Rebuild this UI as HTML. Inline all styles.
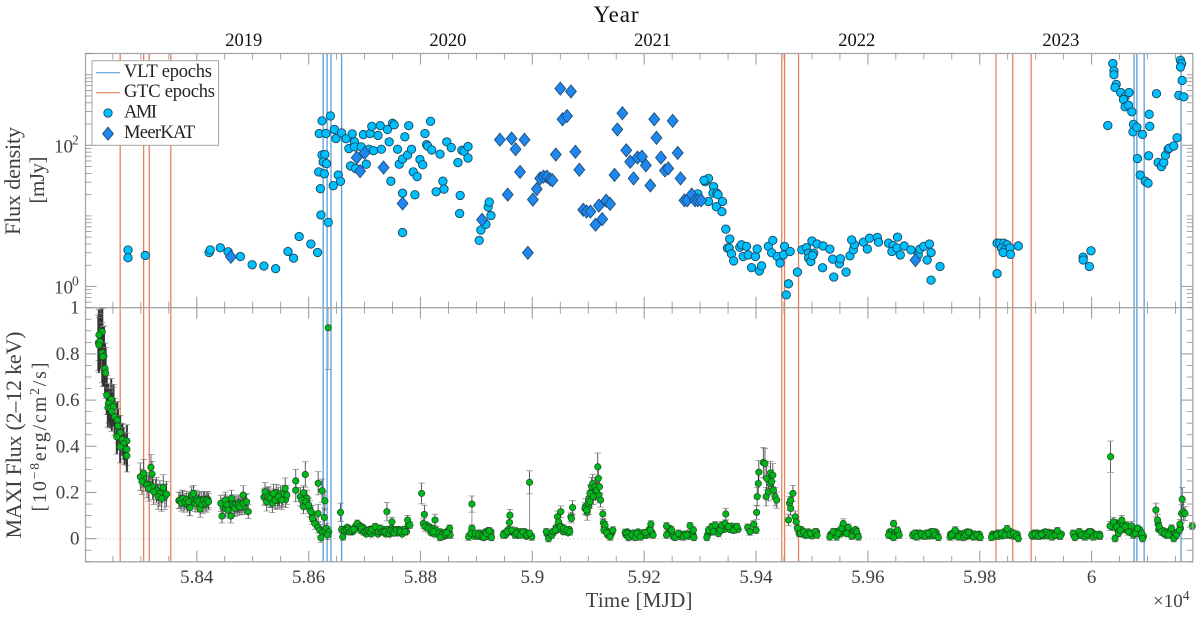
<!DOCTYPE html>
<html lang="en">
<head>
<meta charset="utf-8">
<title>Flux density and MAXI flux light curves</title>
<style>
html,body{margin:0;padding:0;background:#fff;}
svg{display:block;font-family:"Liberation Serif",serif;}
</style>
</head>
<body>
<svg id="chart" xmlns="http://www.w3.org/2000/svg" width="1200" height="617" viewBox="0 0 1200 617">
  <rect x="0" y="0" width="1200" height="617" fill="#fff"/>
  <g id="epochs"></g>
  <g id="zero"></g>
  <g id="errors"></g>
  <g id="maxi"></g>
  <g id="ami"></g>
  <g id="meerkat"></g>
  <g id="axes"></g>
  <g id="labels" fill="#404040" font-size="19"></g>
  <g id="years" fill="#111" font-size="18.5"></g>

  <text x="616" y="22" font-size="23" text-anchor="middle" fill="#111" textLength="45">Year</text>
  <text x="639" y="607" font-size="21" text-anchor="middle" fill="#404040" textLength="107">Time [MJD]</text>
  <text transform="translate(20,181) rotate(-90)" font-size="22" text-anchor="middle" fill="#404040" textLength="108">Flux density</text>
  <text transform="translate(44,180) rotate(-90)" font-size="21" text-anchor="middle" fill="#404040" textLength="47">[mJy]</text>
  <text transform="translate(21,435) rotate(-90)" font-size="22" text-anchor="middle" fill="#404040" textLength="207">MAXI Flux (2–12 keV)</text>
  <text transform="translate(46,437) rotate(-90)" font-size="20" text-anchor="middle" fill="#404040" textLength="149">[10<tspan font-size="13.5" dy="-7">−8</tspan><tspan dy="7">erg/cm</tspan><tspan font-size="13.5" dy="-7">2</tspan><tspan dy="7">/s]</tspan></text>
  <text x="1153" y="607" font-size="19" fill="#404040">×10<tspan font-size="13.5" dy="-7">4</tspan></text>

  <g>
    <rect x="92" y="60.7" width="126.5" height="84.6" fill="#fff" stroke="#a6a6a6" stroke-width="1"/>
    <line x1="96" x2="120" y1="72.7" y2="72.7" stroke="#5a9fd4" stroke-width="1.2"/>
    <line x1="96" x2="120" y1="92.7" y2="92.7" stroke="#e8805a" stroke-width="1.2"/>
    <circle cx="108" cy="113" r="4.2" fill="#00bfff" stroke="#17475e" stroke-width="0.9"/>
    <path d="M108 127.2 L113.4 133.7 L108 140.2 L102.6 133.7 Z" fill="#1e88f0" stroke="#1d4d73" stroke-width="0.9"/>
    <text x="124" y="77" font-size="18.5" fill="#222" textLength="88">VLT epochs</text>
    <text x="124" y="97" font-size="18.5" fill="#222" textLength="91">GTC epochs</text>
    <text x="124" y="117.5" font-size="18.5" fill="#222" textLength="33">AMI</text>
    <text x="124" y="138" font-size="18.5" fill="#222" textLength="71">MeerKAT</text>
  </g>
</svg>
<script>
// ---- Epochs (MJD) ----
const vltEpochs = [58626,58633,58640,58659,60076,60081,60094,60160];
const gtcEpochs = [58263,58305,58315,58353.5,59446,59451,59476,59829,59859,59892];

// ---- Axis tick values and labels ----
const xTickValues = [58400,58600,58800,59000,59200,59400,59600,59800,60000];
const xTickLabels = ['5.84','5.86','5.88','5.9','5.92','5.94','5.96','5.98','6'];
const maxiTickValues = [0,0.2,0.4,0.6,0.8,1];
const maxiTickLabels = ['0','0.2','0.4','0.6','0.8','1'];
const fluxTickValues = [1,100];
const fluxTickExponents = ['0','2'];
const yearValues = [58484,58849,59215,59580,59945];
const yearLabels = ['2019','2020','2021','2022','2023'];

// ---- AMI radio flux density ----
const amiMjd = [
58277,58277,58308,58422,58424,58442,58456,58478,58499,58520,58541,58563,58573,58583,58604,58616,
58624,58639,58619,58631,58646,58649,58659,58667,58678,58624,58629,58626,58632,58618,58628,58621,58622,58635,58644,58653,58657,
58698,58710,58713,58728,58724,58741,58750,58753,58744,58759,58779,58772,58818,58808,58811,58813,58820,58835,58847,58855,58874,58878,58885,58885,58867,
58672,58682,58682,58694,58708,58716,58730,58675,58684,58703,58747,58762,58768,58777,58784,58799,58804,58787,58794,58768,58790,58768,58840,58842,58828,58871,58870,
58905,58908,58917,58926,58921,58923,
59309,59312,59315,59307,59296,59324,59323,59330,59332,59315,59340,59329,59339,59346,59353,59349,59352,59356,59360,59371,59374,59383,59377,59386,59399,59402,59392,59406,59410,59422,59430,59428,59438,59443,59449,59451,59461,59474,59458,59454,
59482,59490,59500,59509,59520,59532,59494,59503,59494,59498,59501,59519,59537,59549,59551,59539,59561,59568,59574,59576,59571,59592,59603,59599,59617,59619,59637,59653,59645,59643,59652,59658,59665,59677,59690,59693,59700,59710,59713,59706,59713,59729,
59831,59836,59843,59849,59839,59845,59842,59854,59855,59869,59831,
59985,59985,59996,59999,
60038,60040,60040,60029,60044,60042,60052,60060,60057,60067,60060,60066,60072,60075,60074,60081,60091,60082,60103,60104,60116,60102,60087,60096,60101,
60119,60125,60129,60132,60137,60139,60147,60153,60159,60161,60159,60162,60156,60165
];
const amiFlux = [
3.28,2.55,2.75,3.03,3.3,3.53,3.1,2.66,2.03,1.95,1.79,3.13,2.52,5.1,4.0,3.03,
222,261,147,147,168,125,150,124,145,73,74,58,55,42,39.5,24.3,10.3,8.1,26.8,38,30.9,
142,147,186,190,138,168,205,195,112,88,190,132,219,147,102,97,86,75,112,93,85,82,96,66,57,
90,112,95,95,88,84,88,51,47,54,31,54,64,73,88,63,53,42,36,21,19.9,5.8,31,24,22,19.5,10.8,
4.5,6.3,7.6,10.1,13.4,15.7,
30.5,32,34,32,20.5,26,21,21,20,16,16,13.5,11.5,6.5,4.7,3.5,3.5,2.9,2.3,3.6,3.9,3.7,2.66,2.8,2.66,3.4,1.85,1.66,1.96,3.7,4.5,3.0,2.66,2.15,2.8,3.7,3.13,1.6,1.09,0.76,
3.3,3.55,4.4,4.0,3.75,3.38,2.97,2.97,2.52,2.26,2.75,1.84,2.44,2.1,2.47,1.36,1.6,2.72,3.3,3.9,4.57,4.25,4.83,3.4,4.95,4.25,4.1,5,3.8,3.13,3.5,2.8,3.75,3.3,2.8,3.38,3.7,4,3.03,2.37,1.23,1.92,
4.1,4.1,4.1,3.9,3.5,3.3,3.03,3.5,2.85,3.75,1.52,
2.6,2.37,1.92,3.2,
1440,1133,1000,191,730,660,560,486,445,560,351,370,298,198,155,180,143,65,275,186,540,71,38,31,29,
57,50,57,72,88,91,98,128,1600,1440,1291,830,510,486
];

// ---- MeerKAT radio flux density ----
const meerkatMjd = [
58461,58686,58700,58692,58734,58768,
58910,58942,58963,58970,58986,58978,58956,58992,59001,59008,59014,59020,59026,59032,59036,59042,59050,59069,59054,59062,59077,59084,
59091,59097,59104,59113,59119,59125,59132,59139,59147,59152,59161,59168,59175,59181,59188,59196,59203,59211,59218,59222,59230,59237,59243,59251,59260,59265,
59272,59277,59285,59291,59296,59302,59685
];
const meerkatFlux = [
2.63,67,78,43,48.5,15,
8.8,120,125,88,120,42,20,3,17,24,34,36,36,33,32,74,635,580,234,260,81,45,
12.2,11.5,11.5,7.5,14,9,16.4,14.8,38,168,285,85,58.5,34,67,69,52,27,234,128,67,44,47,222,78,34,
16.6,16.6,20,16.6,16.6,16.6,2.36
];

// ---- MAXI X-ray flux: one line per observing stretch in all three arrays ----
const maxiMjd = [
58229,58231,58225,58224,58227,58225,58231,58234,58232,58236,58237,58239,58247,58251,58242,58241,58245,58251,58248,58253,58258,58259,58263,58257,58267,58275,58269,58271,58275,58263,58275,
58299,58305,58302,58311,58318,58320,58321,58328,58334,58340,58343,58346,58331,58337,58314,58323,
58368,58370,58372,58375,58379,58382,58385,58387,58388,58391,58394,58397,58400,58403,58406,58409,58412,58415,58418,58421,
58443,58445,58451,58454,58456,58461,58462,58468,58474,58477,58483,58483,58489,58492,
58522,58525,58527,58531,58535,58537,58540,58546,58552,58558,58561,
58577,58577,58594,58617,58624,58629,58628,58617,58635,
58585,58588,58591,58591,58595,58600,58604,58607,58611,58617,58620,58622,58625,58629,58632,58636,58634,
58657,58659,58661,58664,58668,58671,58674,58677,58681,58687,58692,58695,58698,58701,58704,58707,58710,58713,58719,58725,58728,58731,58734,58737,58740,58743,58746,58749,58750,58753,58757,58763,58764,58772,58778,58777,58781,
58802,58807,58805,58808,58814,58820,58826,58828,58832,58838,58844,58852,58853,58847,58835,58823,
58892,58892,58886,58890,58898,58904,58910,58913,58918,58923,58927,
58948,58955,58960,58959,58963,58969,58972,58978,58983,58990,58995,58999,58995,
59025,59029,59035,59037,59041,59045,59047,59050,59051,59056,59062,59067,59069,59070,59072,
59094,59097,59100,59103,59103,59106,59108,59109,59112,59115,59117,59118,59120,59122,
59126,59127,59130,59128,59133,59139,59144,
59166,59169,59172,59178,59184,59187,59193,59202,59211,59212,59216,
59240,59240,59249,59252,59255,59261,59270,59276,59282,59288,59289,
59312,59315,59321,59324,59327,59333,59336,59339,59345,59346,59351,59360,59366,
59385,59389,59396,59400,59401,59402,59404,59405,59413,59416,59418,59419,59422,59425,59426,59428,59430,59431,59434,59437,
59458,59460,59462,59462,59466,59470,59472,59474,59477,59479,59485,59491,59497,59506,59509,
59532,59538,59544,59547,59553,59556,59562,59565,59571,59580,59583,
59637,59646,59646,59653,59656,
59680,59684,59687,59696,59702,59708,59717,59720,59726,
59747,59750,59756,59762,59771,59775,59780,59789,59795,59801,
59821,59830,59839,59845,59849,59854,59860,59865,59869,
59893,59899,59905,59911,59920,59925,59929,59935,59939,59944,
59967,59970,59978,59982,59988,59992,59997,60003,60009,60015,
60034,60033,60039,60042,60045,60048,60051,60054,60060,60066,60071,60075,60078,60082,60090,60091,
60115,60118,60121,60125,60131,60137,60143,60147,60152,60157,60158,60161,60162,60164,60167,60180
];
const maxiFlux = [
0.899,0.896,0.882,0.848,0.853,0.838,0.805,0.791,0.788,0.737,0.718,0.622,0.603,0.578,0.586,0.568,0.564,0.571,0.55,0.528,0.514,0.488,0.459,0.441,0.43,0.423,0.412,0.391,0.387,0.398,0.359,
0.268,0.283,0.247,0.232,0.309,0.28,0.225,0.21,0.196,0.222,0.182,0.193,0.182,0.174,0.218,0.203,
0.165,0.167,0.155,0.174,0.16,0.17,0.16,0.135,0.134,0.189,0.196,0.153,0.165,0.16,0.128,0.15,0.167,0.155,0.167,0.16,
0.153,0.098,0.167,0.146,0.124,0.098,0.175,0.131,0.146,0.138,0.189,0.153,0.16,0.117,
0.203,0.16,0.182,0.175,0.153,0.196,0.167,0.182,0.167,0.218,0.189,
0.25,0.21,0.278,0.24,0.208,0.164,0.092,0.109,0.913,
0.182,0.167,0.199,0.138,0.16,0.146,0.117,0.088,0.066,0.049,0.037,0.004,0.03,0.034,0.045,0.03,0.016,
0.114,0.04,0.008,0.035,0.037,0.042,0.03,0.037,0.04,0.066,0.052,0.045,0.03,0.03,0.035,0.037,0.03,0.04,0.052,0.03,0.045,0.03,0.03,0.03,0.117,0.023,0.035,0.073,0.03,0.025,0.037,0.037,0.03,0.03,0.059,0.081,0.059,
0.196,0.105,0.066,0.052,0.045,0.037,0.081,0.037,0.023,0.016,0.019,0.045,0.016,0.026,0.006,0.03,
0.15,0.045,0.008,0.023,0.023,0.016,0.011,0.006,0.023,0.034,0.006,
0.016,0.03,0.102,0.07,0.037,0.016,0.023,0.016,0.03,0.016,0.244,0.008,0.023,
0.03,0.001,0.016,0.03,0.037,0.095,0.073,0.052,0.117,0.045,0.037,0.03,0.095,0.088,0.135,
0.131,0.124,0.153,0.196,0.16,0.225,0.239,0.182,0.225,0.21,0.311,0.261,0.225,0.167,
0.107,0.069,0.059,0.037,0.026,0.008,0.037,
0.027,0.023,0.006,0.016,0.006,0.023,0.008,0.026,0.037,0.063,0.016,
0.055,0.016,0.037,0.011,0.006,0.023,0.008,0.016,0.056,0.037,0.006,
0.006,0.037,0.052,0.03,0.059,0.023,0.037,0.059,0.066,0.107,0.052,0.037,0.052,
0.049,0.03,0.063,0.037,0.114,0.182,0.239,0.288,0.33,0.326,0.182,0.261,0.203,0.239,0.285,0.247,0.275,0.21,0.182,0.167,
0.081,0.153,0.167,0.131,0.196,0.095,0.073,0.045,0.023,0.023,0.03,0.016,0.023,0.03,0.016,
0.008,0.03,0.008,0.023,0.045,0.066,0.023,0.049,0.011,0.03,0.008,
0.016,0.065,0.006,0.037,0.016,
0.016,0.023,0.008,0.019,0.011,0.023,0.03,0.016,0.006,
0.008,0.016,0.037,0.008,0.006,0.016,0.027,0.008,0.016,0.006,
0.006,0.016,0.023,0.016,0.043,0.019,0.023,0.011,0.001,
0.016,0.02,0.011,0.019,0.027,0.02,0.008,0.016,0.034,0.011,
0.023,0.006,0.03,0.016,0.008,0.019,0.03,0.008,0.016,0.011,
0.355,0.055,0.073,0.001,0.052,0.023,0.037,0.081,0.052,0.03,0.055,0.016,0.023,0.045,0.023,0.001,
0.124,0.081,0.052,0.03,0.023,0.016,0.045,0.001,0.016,0.037,0.063,0.109,0.171,0.117,0.109,0.055
];
const maxiErr = [
0.10,0.10,0.11,0.12,0.12,0.12,0.13,0.13,0.13,0.11,0.11,0.085,0.09,0.09,0.085,0.085,0.085,0.085,0.085,0.08,0.08,0.075,0.075,0.075,0.07,0.07,0.07,0.07,0.07,0.07,0.07,
0.06,0.06,0.055,0.055,0.055,0.055,0.055,0.055,0.055,0.055,0.055,0.055,0.055,0.055,0.055,0.055,
0.035,0.035,0.035,0.035,0.035,0.035,0.035,0.035,0.035,0.035,0.035,0.035,0.035,0.035,0.035,0.035,0.035,0.035,0.035,0.035,
0.035,0.03,0.035,0.035,0.035,0.03,0.035,0.035,0.035,0.035,0.04,0.035,0.035,0.03,
0.04,0.04,0.04,0.04,0.04,0.04,0.04,0.04,0.04,0.045,0.04,
0.05,0.05,0.055,0.05,0.05,0.04,0.04,0.04,0.18,
0.04,0.03,0.03,0.03,0.03,0.03,0.025,0.025,0.025,0.025,0.025,0.02,0.02,0.02,0.02,0.02,0.02,
0.04,0.015,0.015,0.015,0.015,0.015,0.015,0.015,0.015,0.015,0.015,0.015,0.015,0.015,0.015,0.015,0.015,0.015,0.015,0.015,0.015,0.015,0.015,0.015,0.04,0.015,0.015,0.02,0.015,0.015,0.015,0.015,0.015,0.015,0.015,0.02,0.015,
0.045,0.04,0.02,0.02,0.02,0.02,0.025,0.015,0.015,0.015,0.015,0.015,0.015,0.015,0.015,0.015,
0.035,0.015,0.015,0.015,0.015,0.015,0.015,0.015,0.015,0.015,0.015,
0.015,0.015,0.025,0.02,0.015,0.015,0.015,0.015,0.015,0.015,0.05,0.015,0.015,
0.015,0.015,0.015,0.015,0.015,0.025,0.02,0.015,0.025,0.015,0.015,0.015,0.02,0.02,0.03,
0.025,0.025,0.03,0.035,0.03,0.04,0.04,0.035,0.04,0.04,0.06,0.045,0.04,0.03,
0.02,0.015,0.015,0.015,0.015,0.015,0.015,
0.015,0.015,0.015,0.015,0.015,0.015,0.015,0.015,0.015,0.015,0.015,
0.015,0.015,0.015,0.015,0.015,0.015,0.015,0.015,0.015,0.015,0.015,
0.015,0.015,0.015,0.015,0.015,0.015,0.015,0.015,0.015,0.025,0.015,0.015,0.015,
0.015,0.015,0.015,0.015,0.03,0.04,0.05,0.05,0.065,0.065,0.04,0.05,0.04,0.05,0.05,0.05,0.05,0.04,0.04,0.035,
0.025,0.03,0.03,0.03,0.035,0.025,0.02,0.015,0.015,0.015,0.015,0.015,0.015,0.015,0.015,
0.015,0.015,0.015,0.015,0.015,0.02,0.015,0.015,0.015,0.015,0.015,
0.015,0.015,0.015,0.015,0.015,
0.015,0.015,0.015,0.015,0.015,0.015,0.015,0.015,0.015,
0.015,0.015,0.015,0.015,0.015,0.015,0.015,0.015,0.015,0.015,
0.015,0.015,0.015,0.015,0.015,0.015,0.015,0.015,0.015,
0.015,0.015,0.015,0.015,0.015,0.015,0.015,0.015,0.015,0.015,
0.015,0.015,0.015,0.015,0.015,0.015,0.015,0.015,0.015,0.015,
0.068,0.02,0.02,0.015,0.02,0.015,0.015,0.02,0.02,0.015,0.02,0.015,0.015,0.015,0.015,0.015,
0.03,0.025,0.02,0.015,0.015,0.015,0.015,0.015,0.015,0.015,0.02,0.04,0.05,0.04,0.03,0.015
];
// Additional overlapping MAXI points that thicken the densely sampled stretches
const maxiDenseMjd = [
58305,58308,58316,58326,58330,58335,58339,58342,
58374,58377,58383,58390,58393,58399,58401,58405,58408,58411,58414,58417,58420,
58447,58449,58452,58458,58460,58464,58466,58470,58472,58475,58479,58481,58485,58487,
58520,58523,58529,58533,58539,58542,58544,58548,58550,58554,58556,58559,
58597,58602,58606,58609,58614,
58666,58669,58679,58684,58690,58693,58697,58703,58709,58712,58716,58722,58724,58730,58735,58738,58741,58745,58748,58752,58755,58759,58761,58767,58770,58775,
58811,58817,58819,58822,58825,58830,58834,58836,58840,58842,58846,58849,58851,
58888,58894,58896,58900,58902,58906,58908,58912,58915,58916,58920,58921,58925,58926,
58950,58952,58957,58961,58965,58967,58971,58974,58976,58980,58985,58987,58989,58992,58997,
59027,59031,59033,59039,59043,59046,59048,59053,59055,59058,59060,59064,59066,
59095,59098,59101,59102,59105,59110,59113,59116,59119,
59129,59131,59135,59136,59137,59141,59142,
59168,59170,59174,59176,59180,59182,59186,59189,59191,59195,59197,59199,59204,59206,59208,59209,59213,59214,
59244,59246,59258,59263,59265,59267,59272,59274,59278,59280,59284,59286,59287,
59314,59317,59318,59320,59323,59326,59329,59331,59335,59338,59341,59343,59348,59353,59355,59357,59362,59364,59368,
59481,59482,59488,59494,59500,59503,59508,
59534,59536,59540,59542,59546,59549,59551,59554,59558,59559,59560,59564,59567,59569,59573,59575,59577,59578,59581,
59639,59641,59642,59644,59648,59650,59652,59654,
59682,59686,59689,59691,59693,59694,59698,59700,59704,59706,59710,59712,59714,59716,59718,59722,59724,
59748,59752,59754,59758,59760,59764,59766,59768,59773,59777,59778,59782,59784,59786,59791,59793,59797,59799,
59823,59825,59827,59832,59834,59836,59841,59843,59847,59851,59852,59856,59858,59862,59867,
59895,59897,59901,59903,59907,59909,59913,59915,59917,59919,59922,59927,59931,59933,59937,59941,59942,59946,
59969,59972,59974,59976,59980,59984,59986,59990,59994,59995,59999,60001,60005,60007,60011,60013,60014,
60036,60038,60040,60043,60047,60049,60052,60053,60056,60058,60062,60064,60068,60070,60073,60077,60080,60084,60086,60088,60093,
60119,60120,60123,60127,60129,60133,60135,60139,60141,60145,60149,60150,60154,60159
];
const maxiDenseFlux = [
0.26,0.24,0.235,0.22,0.2,0.2,0.19,0.2,
0.175,0.15,0.15,0.165,0.175,0.175,0.15,0.17,0.165,0.145,0.17,0.15,0.17,
0.14,0.155,0.13,0.15,0.14,0.155,0.145,0.15,0.135,0.155,0.15,0.14,0.14,0.155,
0.18,0.185,0.19,0.17,0.18,0.2,0.165,0.17,0.195,0.175,0.195,0.17,
0.175,0.13,0.11,0.08,0.06,
0.03,0.05,0.03,0.055,0.06,0.035,0.05,0.02,0.04,0.02,0.045,0.045,0.02,0.04,0.04,0.02,0.04,0.02,0.045,0.04,0.04,0.025,0.04,0.02,0.04,0.03,
0.06,0.05,0.025,0.045,0.02,0.03,0.02,0.03,0.025,0.01,0.015,0.035,0.025,
0.012,0.02,0.01,0.02,0.01,0.025,0.01,0.02,0.015,0.03,0.01,0.035,0.02,0.03,
0.025,0.015,0.04,0.03,0.03,0.025,0.035,0.015,0.03,0.025,0.02,0.03,0.01,0.02,0.012,
0.02,0.012,0.025,0.03,0.05,0.04,0.06,0.05,0.03,0.03,0.04,0.025,0.04,
0.14,0.115,0.14,0.175,0.2,0.205,0.2,0.22,0.19,
0.045,0.04,0.015,0.03,0.02,0.02,0.03,
0.015,0.03,0.02,0.01,0.025,0.012,0.015,0.03,0.015,0.025,0.012,0.02,0.014,0.03,0.018,0.04,0.03,0.022,
0.03,0.045,0.015,0.01,0.02,0.015,0.02,0.012,0.022,0.01,0.02,0.025,0.015,
0.02,0.03,0.04,0.03,0.045,0.035,0.05,0.04,0.05,0.04,0.045,0.04,0.05,0.04,0.05,0.055,0.045,0.04,0.04,
0.04,0.02,0.015,0.03,0.012,0.025,0.03,
0.02,0.02,0.02,0.03,0.015,0.035,0.02,0.03,0.04,0.03,0.05,0.03,0.035,0.02,0.02,0.035,0.015,0.04,0.018,
0.03,0.012,0.03,0.018,0.02,0.03,0.015,0.025,
0.012,0.025,0.02,0.012,0.025,0.012,0.02,0.015,0.025,0.014,0.012,0.03,0.016,0.012,0.02,0.028,0.012,
0.02,0.025,0.012,0.02,0.025,0.022,0.012,0.02,0.025,0.01,0.03,0.012,0.025,0.014,0.02,0.012,0.008,0.02,
0.02,0.014,0.01,0.025,0.01,0.02,0.012,0.03,0.025,0.028,0.015,0.03,0.012,0.018,0.02,
0.01,0.025,0.012,0.025,0.02,0.012,0.026,0.012,0.03,0.014,0.012,0.026,0.022,0.012,0.03,0.02,0.012,0.02,
0.015,0.02,0.012,0.024,0.024,0.012,0.022,0.012,0.028,0.012,0.02,0.028,0.02,0.012,0.018,0.012,0.02,
0.06,0.05,0.06,0.07,0.04,0.06,0.07,0.045,0.06,0.04,0.06,0.035,0.045,0.025,0.035,0.04,0.03,0.025,0.04,0.015,0.01,
0.065,0.04,0.04,0.025,0.035,0.015,0.03,0.025,0.035,0.012,0.008,0.025,0.03,0.045
];
// Long thin whiskers seen rising from the quiescent blobs
const whiskerMjd = [58892,58995,60034];
const whiskerLow = [0.04,0.02,0.06];
const whiskerHigh = [0.15,0.21,0.283];

// ---- Axis functions ----
const xDomain = [58201,60181], xRange = [85.5,1192.8];
const panelTop = 53.5, panelMid = 307.7, panelBottom = 561.8;
const fluxDomain = [0.5,2000], maxiDomain = [-0.1,1];
const denseErrBar = 0.035;
function xScale(v){return xRange[0]+(v-xDomain[0])/(xDomain[1]-xDomain[0])*(xRange[1]-xRange[0]);}
function fluxScale(v){return panelMid-(Math.log10(v)-Math.log10(fluxDomain[0]))/(Math.log10(fluxDomain[1])-Math.log10(fluxDomain[0]))*(panelMid-panelTop);}
function maxiScale(v){return panelBottom-(v-maxiDomain[0])/(maxiDomain[1]-maxiDomain[0])*(panelBottom-panelMid);}

const NS = 'http://www.w3.org/2000/svg';
function make(tag,parent,attrs){
  const el=document.createElementNS(NS,tag);
  for(const k in attrs) el.setAttribute(k,attrs[k]);
  parent.appendChild(el);
  return el;
}
const $ = id => document.getElementById(id);

// Epoch lines
vltEpochs.forEach(m=>{
  const l=make('line',$('epochs'),{x1:xScale(m),x2:xScale(m),y1:panelTop,y2:panelBottom,stroke:'#5a9fd4','stroke-width':1.3});
  
  
});
gtcEpochs.forEach(m=>{
  const l=make('line',$('epochs'),{x1:xScale(m),x2:xScale(m),y1:panelTop,y2:panelBottom,stroke:'#e8805a','stroke-width':1.3});
  
  
});

// Zero reference
const zeroLine=make('line',$('zero'),{x1:xRange[0],x2:xRange[1],y1:maxiScale(0),y2:maxiScale(0),stroke:'#b0b0b0','stroke-width':1,'stroke-dasharray':'1 3'});



// MAXI error bars
function drawErrorBar(m,f,e){
  const x=xScale(m);
  const top=Math.max(maxiScale(f+e),panelMid+0.5), bot=maxiScale(f-e);
  const heavy=e>=0.07&&e<0.15;
  const bar=make('line',$('errors'),{x1:x,x2:x,y1:top,y2:bot,stroke:e>=0.15?'#a8a8a8':'#333','stroke-width':heavy?2:0.8});
  
  
  const c1=make('line',$('errors'),{x1:x-3.2,x2:x+3.2,y1:top,y2:top,stroke:'#808080','stroke-width':0.7});
  
  
  const c2=make('line',$('errors'),{x1:x-3.2,x2:x+3.2,y1:bot,y2:bot,stroke:'#808080','stroke-width':0.7});
  
  
}
maxiDenseMjd.forEach((m,i)=>{
  if(maxiDenseFlux[i]>0.1) drawErrorBar(m,maxiDenseFlux[i],denseErrBar);
});
maxiMjd.forEach((m,i)=>{
  drawErrorBar(m,maxiFlux[i],maxiErr[i]||0.015);
});
whiskerMjd.forEach((m,i)=>{
  const x=xScale(m);
  const w=make('line',$('errors'),{x1:x,x2:x,y1:maxiScale(whiskerHigh[i]),y2:maxiScale(whiskerLow[i]),stroke:'#666','stroke-width':0.7});
  
  
});

// MAXI points
maxiDenseMjd.forEach((m,i)=>{
  const p=make('circle',$('maxi'),{cx:xScale(m),cy:maxiScale(maxiDenseFlux[i]),r:3.2,fill:'#00b81c',stroke:'#1c4a1c','stroke-width':0.7});
  
  
});
maxiMjd.forEach((m,i)=>{
  const p=make('circle',$('maxi'),{cx:xScale(m),cy:maxiScale(maxiFlux[i]),r:3.2,fill:'#00b81c',stroke:'#1c4a1c','stroke-width':0.7});
  
  
});

// AMI points
amiMjd.forEach((m,i)=>{
  const p=make('circle',$('ami'),{cx:xScale(m),cy:fluxScale(amiFlux[i]),r:4.2,fill:'#00bfff',stroke:'#17475e','stroke-width':0.9});
  
  
});

// MeerKAT points
meerkatMjd.forEach((m,i)=>{
  const x=xScale(m), y=fluxScale(meerkatFlux[i]);
  const p=make('path',$('meerkat'),{d:`M${x} ${y-6.5} L${x+5.4} ${y} L${x} ${y+6.5} L${x-5.4} ${y} Z`,fill:'#1e88f0',stroke:'#1d4d73','stroke-width':0.9});
  
  
});

// Frame
const frame=make('rect',$('axes'),{x:xRange[0],y:panelTop,width:xRange[1]-xRange[0],height:panelBottom-panelTop,fill:'none',stroke:'#a6a6a6','stroke-width':1.3});


const divider=make('line',$('axes'),{x1:xRange[0],x2:xRange[1],y1:panelMid,y2:panelMid,stroke:'#a6a6a6','stroke-width':1.3});



function tickLine(x1,y1,x2,y2,major){
  const t=make('line',$('axes'),{x1,y1,x2,y2,stroke:major?'#a0a0a0':'#8f8f8f','stroke-width':major?1.1:0.8});
  
  
}
// x ticks on both panels
for(let m=58250;m<=60150;m+=50){
  const major=(m-58400)%200===0, len=major?11:6, x=xScale(m);
  tickLine(x,panelTop,x,panelTop+len,major);
  tickLine(x,panelMid,x,panelMid-len,major);
  tickLine(x,panelMid,x,panelMid+len,major);
  tickLine(x,panelBottom,x,panelBottom-len,major);
}
// Log flux ticks
for(let d=-1;d<=3;d++){
  for(let k=1;k<=9;k++){
    const v=k*Math.pow(10,d);
    if(v<fluxDomain[0]||v>fluxDomain[1]) continue;
    const major=fluxTickValues.includes(v), len=major?11:6, y=fluxScale(v);
    tickLine(xRange[0],y,xRange[0]+len,y,major);
    tickLine(xRange[1],y,xRange[1]-len,y,major);
  }
}
// MAXI flux ticks
for(let i=-2;i<=20;i++){
  const v=i*0.05, major=i%4===0, len=major?11:6, y=maxiScale(v);
  if(i===20) continue;
  tickLine(xRange[0],y,xRange[0]+len,y,major);
  tickLine(xRange[1],y,xRange[1]-len,y,major);
}

// Tick labels
xTickValues.forEach((m,i)=>{
  const t=make('text',$('labels'),{x:xScale(m),y:583,'text-anchor':'middle'});
  t.textContent=xTickLabels[i];
  
  
});
maxiTickValues.forEach((v,i)=>{
  const t=make('text',$('labels'),{x:79.5,y:maxiScale(v)+6,'text-anchor':'end'});
  t.textContent=maxiTickLabels[i];
  
  
});
fluxTickValues.forEach((v,i)=>{
  const y=fluxScale(v);
  const t=make('text',$('labels'),{x:54,y:y+7,'text-anchor':'start'});
  t.textContent='10';
  
  
  const s=make('text',$('labels'),{x:72,y:y-1,'font-size':13.5,'text-anchor':'start'});
  s.textContent=fluxTickExponents[i];
  
  
});
// Year labels
yearValues.forEach((m,i)=>{
  const t=make('text',$('years'),{x:xScale(m),y:46,'text-anchor':'middle'});
  t.textContent=yearLabels[i];
  
  
});
</script>
</body>
</html>
